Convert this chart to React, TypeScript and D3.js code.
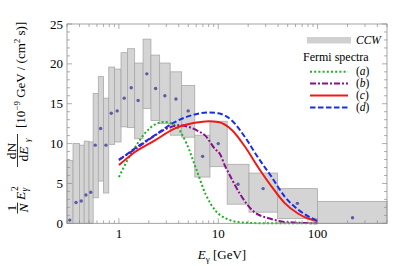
import React from 'react';
import * as d3 from 'd3';

// CCW bins (GeV) and band limits
const binEdges = [0.3, 0.345, 0.4, 0.447, 0.5, 0.55, 0.62, 0.7, 0.79, 0.905, 1.05, 1.22, 1.44, 1.75, 2.1, 2.57, 3.28, 4.28, 5.8, 8.25, 12.3, 20.4, 39.5, 100, 500];
const bandTop = [7.9, 10.0, 9.8, 10.3, 10.2, 16.3, 18.4, 15.7, 19.6, 19.35, 21.4, 21.9, 20.1, 23.1, 21.1, 20.1, 19.0, 17.3, 11.05, 12.8, 7.4, 6.3, 4.35, 2.75];
const bandBottom = [0, 0, 0, 0, 0, 3.2, 5.3, 3.8, 9.9, 10.2, 12.1, 12.0, 10.6, 14.4, 12.9, 12.5, 11.05, 10.8, 5.8, 7.1, 2.4, 1.4, 0.6, 0];
const pointE = [0.32, 0.37, 0.417, 0.465, 0.52, 0.577, 0.654, 0.74, 0.837, 0.96, 1.13, 1.33, 1.56, 1.91, 2.34, 2.9, 3.75, 4.98, 6.96, 10.0, 15.8, 28.3, 62.6, 225];
const pointFlux = [0.4, 2.6, 2.8, 3.55, 3.9, 9.8, 11.9, 9.8, 13.8, 14.1, 15.7, 17.0, 15.4, 18.75, 16.9, 16.0, 15.6, 14.1, 8.4, 10.0, 4.9, 4.35, 2.5, 0.7];

// Fermi spectra (a)-(d)
const aE = [1.0, 1.24, 1.5, 1.83, 2.4, 2.9, 3.8, 4.8, 6.0, 7.5, 9.5, 12, 16, 25, 100];
const aF = [5.8, 8.1, 9.8, 11.3, 12.5, 12.7, 12.1, 10.0, 6.8, 3.6, 1.5, 0.6, 0.15, 0.02, 0];
const bE = [1.0, 1.5, 2.0, 2.5, 3.2, 4.0, 5.0, 6.2, 7.4, 9.3, 10.4, 11.7, 13.1, 16.5, 22.6, 33, 49, 100];
const bF = [8.0, 9.4, 10.5, 11.3, 12.0, 12.3, 12.1, 11.6, 11.0, 9.3, 8.7, 7.2, 6.0, 3.7, 1.5, 0.6, 0.15, 0];
const cE = [1.0, 1.45, 2.3, 3.66, 5.8, 8, 10, 13.7, 18.6, 25, 34.5, 47, 64, 80, 100];
const cF = [7.3, 8.95, 10.4, 11.9, 12.6, 12.8, 12.7, 11.7, 9.6, 7.1, 4.6, 2.5, 1.2, 0.6, 0.25];
const dE = [1.0, 1.45, 2.3, 3.66, 5.8, 8, 10, 13.7, 18.6, 25, 34.5, 47, 64, 80, 100];
const dF = [7.9, 9.4, 11.05, 12.7, 13.65, 13.9, 13.8, 12.9, 10.8, 8.3, 5.8, 3.3, 1.7, 0.9, 0.3];

const yTicks = [0, 5, 10, 15, 20, 25];
const xTickLabels = ['1', '10', '100'];
const legendLabels = ['a', 'b', 'c', 'd'];

const W = 409;
const H = 266;
const left = 67, right = 387, top = 24, bottom = 223.3;
const font = "'Liberation Serif', 'Times New Roman', serif";

const series = [
  { E: aE, F: aF, color: '#22b022', dash: '2 2.2' },
  { E: bE, F: bF, color: '#8a0f8a', dash: '6 2 2 2' },
  { E: cE, F: cF, color: '#ee1a1a', dash: '' },
  { E: dE, F: dF, color: '#1a2ee8', dash: '5.5 2.5' },
];

export default function App() {
  const x = d3.scaleLog().domain([0.3, 500]).range([left, right]);
  const y = d3.scaleLinear().domain([0, 25]).range([bottom, top]);

  const line = d3.line<[number, number]>()
    .x(d => x(d[0]))
    .y(d => y(d[1]))
    .curve(d3.curveMonotoneX);

  const xTicks = x.ticks(20).filter(t => t >= 0.3 && t <= 500);
  const yMinor = d3.range(0, 26, 1);

  return (
    <svg width={W} height={H} style={{ position: 'absolute', left: 0, top: 0, background: '#fff', fontFamily: font }}>
      {/* CCW bands */}
      {bandTop.map((t, i) => (
        <rect key={'b' + i}
          x={x(binEdges[i])} width={x(binEdges[i + 1]) - x(binEdges[i])}
          y={y(t)} height={y(bandBottom[i]) - y(t)}
          fill="#d4d4d4" stroke="#a8a8a8" strokeWidth={0.8} />
      ))}
      {pointE.map((e, i) => (
        <circle key={'p' + i} cx={x(e)} cy={y(pointFlux[i])} r={1.7} fill="#5b5ba6" />
      ))}

      {/* spectra */}
      {series.map((s, i) => (
        <path key={'s' + i} d={line(s.E.map((e, j) => [e, s.F[j]] as [number, number])) || ''}
          fill="none" stroke={s.color} strokeWidth={2} strokeDasharray={s.dash} />
      ))}

      {/* frame */}
      <rect x={left} y={top} width={right - left} height={bottom - top} fill="none" stroke="#8c8c8c" strokeWidth={0.8} />
      {xTicks.map((t, i) => {
        const major = Math.abs(Math.log10(t) - Math.round(Math.log10(t))) < 1e-6;
        const len = major ? 5 : 3;
        return (
          <g key={'xt' + i} stroke="#8c8c8c" strokeWidth={0.7}>
            <line x1={x(t)} x2={x(t)} y1={bottom} y2={bottom - len} />
            <line x1={x(t)} x2={x(t)} y1={top} y2={top + len} />
          </g>
        );
      })}
      {yMinor.map((t, i) => {
        const len = t % 5 === 0 ? 5 : 3;
        return (
          <g key={'yt' + i} stroke="#8c8c8c" strokeWidth={0.7}>
            <line x1={left} x2={left + len} y1={y(t)} y2={y(t)} />
            <line x1={right} x2={right - len} y1={y(t)} y2={y(t)} />
          </g>
        );
      })}
      {yTicks.map(t => (
        <text key={'yl' + t} x={63} y={y(t) + 4.5} textAnchor="end" fontSize={13}>{t}</text>
      ))}
      {xTickLabels.map(l => (
        <text key={'xl' + l} x={x(+l)} y={238} textAnchor="middle" fontSize={13}>{l}</text>
      ))}

      {/* x label */}
      <text x={222} y={259} textAnchor="middle" fontSize={13}>
        <tspan fontStyle="italic">E</tspan><tspan fontSize={9} dy={2.5}>γ</tspan><tspan dy={-2.5}> [GeV]</tspan>
      </text>

      {/* y label */}
      <g transform="translate(27.5,223) rotate(-90)" fontSize={13.5}>
        <text x={15} y={-11.5} textAnchor="middle">1</text>
        <line x1={9.5} x2={20.5} y1={-10} y2={-10} stroke="#000" strokeWidth={0.8} />
        <text x={15} y={0} textAnchor="middle" fontStyle="italic">N</text>
        <text x={23} y={-3}><tspan fontStyle="italic">E</tspan></text>
        <text x={31.5} y={0} fontSize={9.5} fontStyle="italic">γ</text>
        <text x={32} y={-10} fontSize={9.5}>2</text>
        <text x={72} y={-11.5} textAnchor="middle">dN</text>
        <line x1={56} x2={89} y1={-10} y2={-10} stroke="#000" strokeWidth={0.8} />
        <text x={69} y={0} textAnchor="middle">d<tspan fontStyle="italic">E</tspan></text>
        <text x={81} y={2} fontSize={9} fontStyle="italic">γ</text>
        <text x={95} y={-3} fontSize={13}>[10<tspan dy={-5} fontSize={9}>−9</tspan><tspan dy={5}> GeV / (cm</tspan><tspan dy={-5} fontSize={9}>2</tspan><tspan dy={5}> s)]</tspan></text>
      </g>

      {/* legend */}
      <rect x={307} y={37} width={44} height={6.5} fill="#d0d0d0" />
      <text x={356} y={44} fontSize={11.5} fontStyle="italic">CCW</text>
      <text x={303} y={60.5} fontSize={12}>Fermi spectra</text>
      {series.map((s, i) => {
        const ly = 71.7 + i * 11.9;
        return (
          <g key={'lg' + i}>
            <line x1={310} x2={348} y1={ly} y2={ly} stroke={s.color} strokeWidth={2} strokeDasharray={s.dash} />
            <text x={356} y={ly + 3.5} fontSize={11.5}>(<tspan fontStyle="italic">{legendLabels[i]}</tspan>)</text>
          </g>
        );
      })}
    </svg>
  );
}
